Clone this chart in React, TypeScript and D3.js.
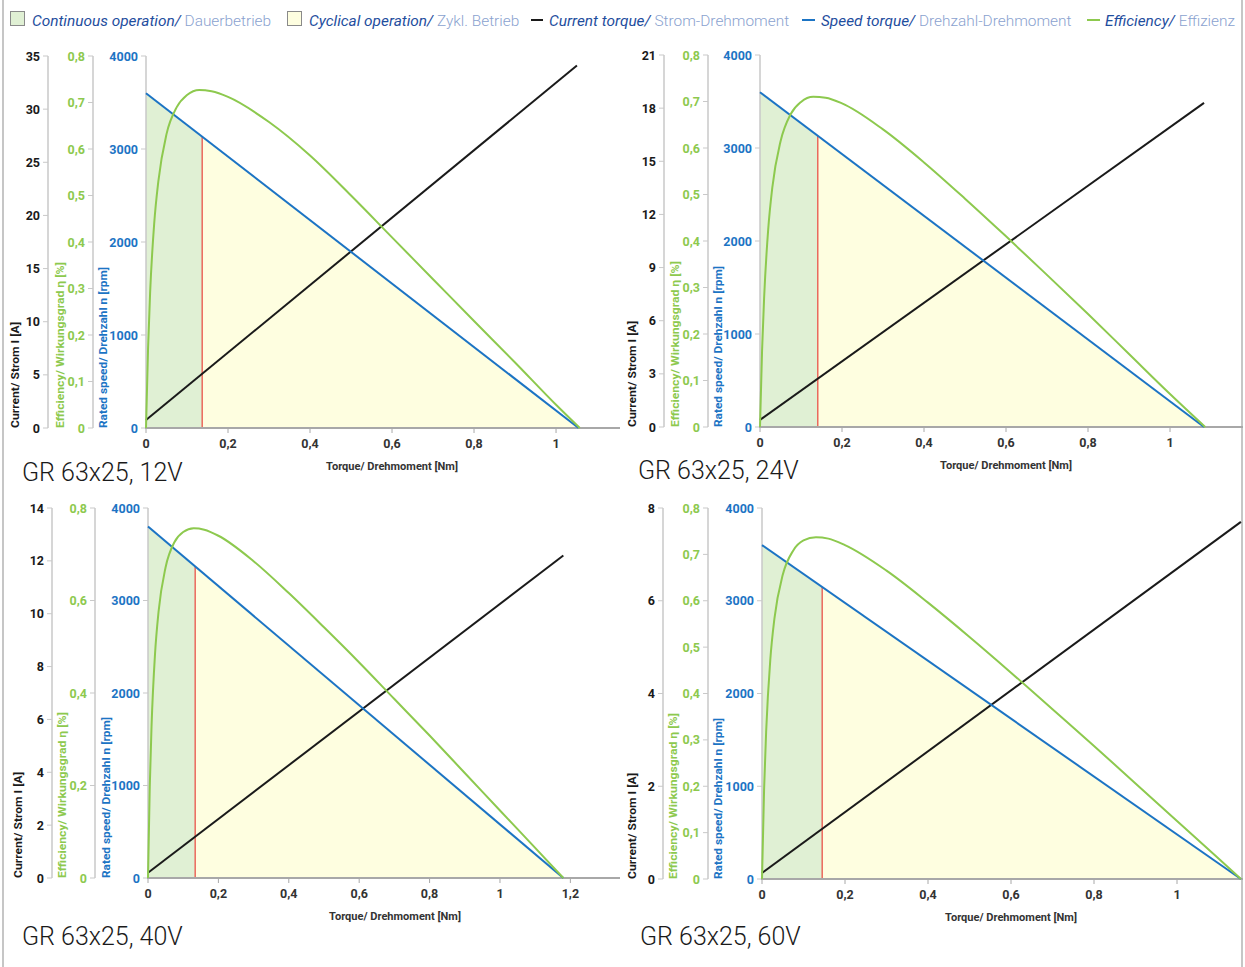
import React from "react";
import * as d3 from "d3";

// ---------- data ----------
const panelTitles = ["GR 63x25, 12V", "GR 63x25, 24V", "GR 63x25, 40V", "GR 63x25, 60V"];

// speed [Nm, rpm]
const speed12: [number, number][] = [[0, 3600], [1.055, 0]];
const speed24: [number, number][] = [[0, 3600], [1.083, 0]];
const speed40: [number, number][] = [[0, 3800], [1.18, 0]];
const speed60: [number, number][] = [[0, 3600], [1.154, 0]];

// current [Nm, A]
const current12: [number, number][] = [[0, 0.75], [1.051, 34.1]];
const current24: [number, number][] = [[0, 0.4], [1.083, 18.3]];
const current40: [number, number][] = [[0, 0.2], [1.18, 12.2]];
const current60: [number, number][] = [[0, 0.13], [1.154, 7.7]];

// efficiency [Nm, eta]
const eff12: [number, number][] = [
  [0, 0], [0.005, 0.17], [0.01, 0.29], [0.02, 0.44], [0.03, 0.53], [0.05, 0.632], [0.075, 0.69],
  [0.1, 0.716], [0.13, 0.727], [0.16, 0.724], [0.2, 0.712], [0.3, 0.658], [0.4, 0.586], [0.5, 0.5],
  [0.6, 0.41], [0.7, 0.32], [0.8, 0.23], [0.9, 0.141], [1.0, 0.05], [1.058, 0],
];
const eff24: [number, number][] = [
  [0, 0], [0.005, 0.163], [0.01, 0.277], [0.02, 0.425], [0.03, 0.515], [0.05, 0.614], [0.075, 0.673],
  [0.1, 0.699], [0.13, 0.71], [0.16, 0.708], [0.2, 0.696], [0.3, 0.64], [0.4, 0.569], [0.5, 0.491],
  [0.6, 0.41], [0.7, 0.327], [0.8, 0.243], [0.9, 0.157], [1.0, 0.071], [1.086, 0],
];
const eff40: [number, number][] = [
  [0, 0], [0.005, 0.197], [0.01, 0.327], [0.02, 0.485], [0.03, 0.576], [0.05, 0.672], [0.075, 0.726],
  [0.1, 0.748], [0.13, 0.756], [0.16, 0.753], [0.2, 0.74], [0.3, 0.685], [0.4, 0.616], [0.5, 0.542],
  [0.6, 0.466], [0.7, 0.387], [0.8, 0.308], [0.9, 0.227], [1.0, 0.146], [1.1, 0.065], [1.18, 0],
];
const eff60: [number, number][] = [
  [0, 0], [0.005, 0.192], [0.01, 0.318], [0.02, 0.473], [0.03, 0.562], [0.05, 0.656], [0.075, 0.708],
  [0.1, 0.73], [0.13, 0.737], [0.16, 0.734], [0.2, 0.72], [0.3, 0.665], [0.4, 0.596], [0.5, 0.522],
  [0.6, 0.445], [0.7, 0.366], [0.8, 0.287], [0.9, 0.206], [1.0, 0.125], [1.1, 0.044], [1.154, 0],
];

// continuous-operation limit torque [Nm]
const limits = [0.137, 0.141, 0.134, 0.145];

// ticks
const currentTicks12 = [0, 5, 10, 15, 20, 25, 30, 35];
const currentTicks24 = [0, 3, 6, 9, 12, 15, 18, 21];
const currentTicks40 = [0, 2, 4, 6, 8, 10, 12, 14];
const currentTicks60 = [0, 2, 4, 6, 8];
const effTicksFine = [0, 0.1, 0.2, 0.3, 0.4, 0.5, 0.6, 0.7, 0.8];
const effTicksCoarse = [0, 0.2, 0.4, 0.6, 0.8];
const speedTicks = [0, 1000, 2000, 3000, 4000];
const torqueTicksA = [0, 0.2, 0.4, 0.6, 0.8, 1];
const torqueTicksB = [0, 0.2, 0.4, 0.6, 0.8, 1, 1.2];

// legend entries
const legendEn = ["Continuous operation/", "Cyclical operation/", "Current torque/", "Speed torque/", "Efficiency/"];
const legendDe = ["Dauerbetrieb", "Zykl. Betrieb", "Strom-Drehmoment", "Drehzahl-Drehmoment", "Effizienz"];

// ---------- layout ----------
const layouts = [
  { cur: 48, eff: 93, spd: 146, top: 56, bottom: 428, right: 620, xMax: 1.156, tCur: 15, tEff: 60, tSpd: 103, xTitle: 392, titleX: 22, titleY: 481 },
  { cur: 664, eff: 708, spd: 760, top: 55, bottom: 427, right: 1243, xMax: 1.178, tCur: 632, tEff: 675, tSpd: 718, xTitle: 1006, titleX: 638, titleY: 479 },
  { cur: 52, eff: 95, spd: 148, top: 508, bottom: 878, right: 620, xMax: 1.341, tCur: 18, tEff: 62, tSpd: 106, xTitle: 395, titleX: 22, titleY: 945 },
  { cur: 663, eff: 708, spd: 762, top: 508, bottom: 879, right: 1243, xMax: 1.159, tCur: 632, tEff: 673, tSpd: 718, xTitle: 1011, titleX: 640, titleY: 945 },
];

const panelData = [
  { speed: speed12, current: current12, eff: eff12, curTicks: currentTicks12, effTicks: effTicksFine, tTicks: torqueTicksA },
  { speed: speed24, current: current24, eff: eff24, curTicks: currentTicks24, effTicks: effTicksFine, tTicks: torqueTicksA },
  { speed: speed40, current: current40, eff: eff40, curTicks: currentTicks40, effTicks: effTicksCoarse, tTicks: torqueTicksB },
  { speed: speed60, current: current60, eff: eff60, curTicks: currentTicks60, effTicks: effTicksFine, tTicks: torqueTicksA },
];

const C_BLACK = "#1a1a1a";
const C_GREEN = "#8dc94e";
const C_BLUE = "#1c74c4";
const C_RED = "#e8453c";
const F_GREEN = "#e0f0d4";
const F_YELLOW = "#fefee0";
const AX = "#c9c9c9";
const FONT = "Roboto, 'DejaVu Sans', sans-serif";

const fmt = (v: number) => String(+v.toFixed(2)).replace(".", ",");

function Panel({ idx }: { idx: number }) {
  const L = layouts[idx];
  const D = panelData[idx];
  const x = d3.scaleLinear().domain([0, L.xMax]).range([L.spd, L.right]);
  const yCur = d3.scaleLinear().domain([0, D.curTicks[D.curTicks.length - 1]]).range([L.bottom, L.top]);
  const yEff = d3.scaleLinear().domain([0, 0.8]).range([L.bottom, L.top]);
  const ySpd = d3.scaleLinear().domain([0, 4000]).range([L.bottom, L.top]);

  const spdAt = d3.scaleLinear().domain(D.speed.map((d) => d[0])).range(D.speed.map((d) => d[1]));
  const lim = limits[idx];
  const greenPts: [number, number][] = [[0, spdAt(0)], [lim, spdAt(lim)]];
  const yellowPts: [number, number][] = [[lim, spdAt(lim)], ...D.speed.filter((d) => d[0] > lim)];

  const area = d3.area<[number, number]>().x((d) => x(d[0])).y0(L.bottom).y1((d) => ySpd(d[1]));
  const lineSpd = d3.line<[number, number]>().x((d) => x(d[0])).y((d) => ySpd(d[1]));
  const lineCur = d3.line<[number, number]>().x((d) => x(d[0])).y((d) => yCur(d[1]));
  const lineEff = d3.line<[number, number]>().x((d) => x(d[0])).y((d) => yEff(d[1])).curve(d3.curveMonotoneX);

  const yAxis = (ax: number, ticks: number[], scale: d3.ScaleLinear<number, number>, color: string, f: (v: number) => string) => (
    <g>
      <line x1={ax} x2={ax} y1={L.top} y2={L.bottom} stroke={AX} strokeWidth={1.5} />
      {ticks.map((t) => (
        <g key={t}>
          <line x1={ax - 5} x2={ax} y1={scale(t)} y2={scale(t)} stroke={AX} strokeWidth={1} />
          <text x={ax - 8} y={scale(t)} dy="0.36em" textAnchor="end" fill={color} fontFamily={FONT} fontWeight={700} fontSize={12.5}>
            {f(t)}
          </text>
        </g>
      ))}
    </g>
  );

  const vTitle = (tx: number, label: string, len: number, color: string) => (
    <text
      transform={`translate(${tx},${L.bottom}) rotate(-90)`}
      dy="0.35em"
      fill={color}
      fontFamily={FONT}
      fontWeight={700}
      fontSize={10.5}
      textLength={len}
      lengthAdjust="spacingAndGlyphs"
    >
      {label}
    </text>
  );

  return (
    <g>
      <path d={area(greenPts) || ""} fill={F_GREEN} />
      <path d={area(yellowPts) || ""} fill={F_YELLOW} />
      <line x1={x(lim)} x2={x(lim)} y1={L.bottom} y2={ySpd(spdAt(lim))} stroke={C_RED} strokeWidth={1.2} />

      {yAxis(L.cur, D.curTicks, yCur, C_BLACK, (v) => String(v))}
      {yAxis(L.eff, D.effTicks, yEff, C_GREEN, fmt)}
      {yAxis(L.spd, speedTicks, ySpd, C_BLUE, (v) => String(v))}

      {vTitle(L.tCur, "Current/ Strom I [A]", 106, C_BLACK)}
      {vTitle(L.tEff, "Efficiency/ Wirkungsgrad η [%]", 166, C_GREEN)}
      {vTitle(L.tSpd, "Rated speed/ Drehzahl n [rpm]", 161, C_BLUE)}

      {/* x axis */}
      <line x1={L.spd - 1} x2={L.right} y1={L.bottom} y2={L.bottom} stroke="#a8a8a8" strokeWidth={2} />
      {D.tTicks.map((t) => (
        <g key={t}>
          <line x1={x(t)} x2={x(t)} y1={L.bottom} y2={L.bottom + 5} stroke="#a8a8a8" strokeWidth={1} />
          <text x={x(t)} y={L.bottom + 15} dy="0.36em" textAnchor="middle" fill="#333" fontFamily={FONT} fontWeight={700} fontSize={12.5}>
            {fmt(t)}
          </text>
        </g>
      ))}
      <text x={L.xTitle} y={L.bottom + 38} dy="0.36em" textAnchor="middle" fill="#333" fontFamily={FONT} fontWeight={700} fontSize={10.5} textLength={132} lengthAdjust="spacingAndGlyphs">
        Torque/ Drehmoment [Nm]
      </text>

      <path d={lineCur(D.current) || ""} fill="none" stroke={C_BLACK} strokeWidth={2} />
      <path d={lineSpd(D.speed) || ""} fill="none" stroke={C_BLUE} strokeWidth={2} />
      <path d={lineEff(D.eff) || ""} fill="none" stroke={C_GREEN} strokeWidth={2} />

      <text x={L.titleX} y={L.titleY} fill="#1a1a1a" fontFamily={FONT} fontWeight={300} fontSize={25}>
        {panelTitles[idx]}
      </text>
    </g>
  );
}

function Legend() {
  const dark = "#1f4e9e";
  const light = "#8aa2cf";
  const y = 26;
  const ls = { fontFamily: FONT, fontSize: 15.4, fontWeight: 300 } as const;
  const textX = [32, 309, 549, 821, 1105];
  const item = (i: number) => (
    <text key={i} x={textX[i]} y={y} {...ls}>
      <tspan fill={dark} fontStyle="italic" fontWeight={400}>{legendEn[i]}</tspan>
      <tspan fill={light}> {legendDe[i]}</tspan>
    </text>
  );
  return (
    <g>
      <rect x={10.5} y={11.5} width={14} height={14} fill={F_GREEN} stroke="#8a8a8a" />
      <rect x={287.5} y={11.5} width={14} height={14} fill={F_YELLOW} stroke="#8a8a8a" />
      <line x1={531} x2={543} y1={20} y2={20} stroke={C_BLACK} strokeWidth={2} />
      <line x1={802} x2={815} y1={20} y2={20} stroke={C_BLUE} strokeWidth={2} />
      <line x1={1087} x2={1100} y1={20} y2={20} stroke={C_GREEN} strokeWidth={2} />
      {[0, 1, 2, 3, 4].map(item)}
    </g>
  );
}

export default function App() {
  return (
    <svg width={1245} height={967} style={{ position: "absolute", left: 0, top: 0, background: "#fff" }}>
      <rect x={0} y={0} width={1245} height={967} fill="#fff" />
      <line x1={3} x2={3} y1={0} y2={967} stroke="#a0a0a0" strokeWidth={1.2} />
      <line x1={1242} x2={1242} y1={0} y2={967} stroke="#a0a0a0" strokeWidth={1.2} />
      <Legend />
      {[0, 1, 2, 3].map((i) => (
        <Panel key={i} idx={i} />
      ))}
    </svg>
  );
}
